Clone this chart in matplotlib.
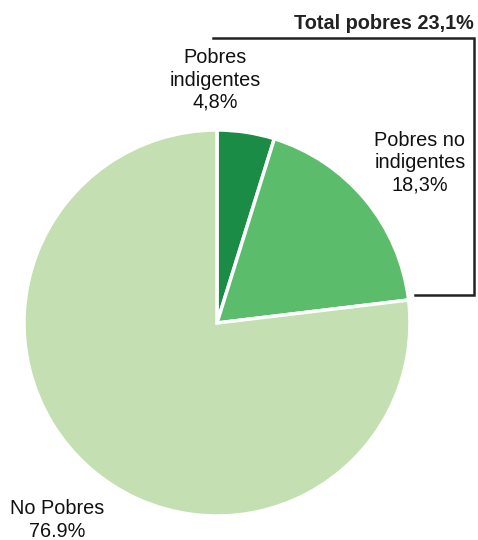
import matplotlib.pyplot as plt

plt.rcParams['font.family'] = ['Liberation Sans', 'DejaVu Sans']

categorias = ['Pobres\nindigentes', 'Pobres no\nindigentes', 'No Pobres']
valores = [4.8, 18.3, 76.9]
etiquetas = ['4,8%', '18,3%', '76.9%']
colores = ['#1a8c45', '#5bbd6b', '#c4e0b2']
total_pobres = 'Total pobres 23,1%'

H = 540
fig = plt.figure(figsize=(4.78, 5.4), dpi=100)
ax = fig.add_axes([0, 0, 1, 1])

# torta en coordenadas de pixel (y hacia arriba)
ax.pie(valores, center=(217, H - 323), radius=193, startangle=90,
       counterclock=False, colors=colores,
       wedgeprops=dict(edgecolor='white', linewidth=2.5))
ax.set_xlim(0, 478)
ax.set_ylim(0, H)
ax.set_aspect('equal')
ax.axis('off')

# etiquetas
pos = [(215, 80), (420, 163), (57, 520)]
for cat, et, (x, y) in zip(categorias, etiquetas, pos):
    ax.text(x, H - y, cat + '\n' + et, ha='center', va='center',
            fontsize=14.3, linespacing=1.22, color='#111111')

# corchete del total de pobres
ax.plot([213, 474, 474, 415], [H - 38, H - 38, H - 295, H - 295],
        color='#222222', linewidth=1.8, solid_joinstyle='miter')
ax.text(474, H - 33, total_pobres, ha='right', va='bottom',
        fontsize=14.3, fontweight='bold', color='#222222')

plt.savefig('out.png', dpi=100)
